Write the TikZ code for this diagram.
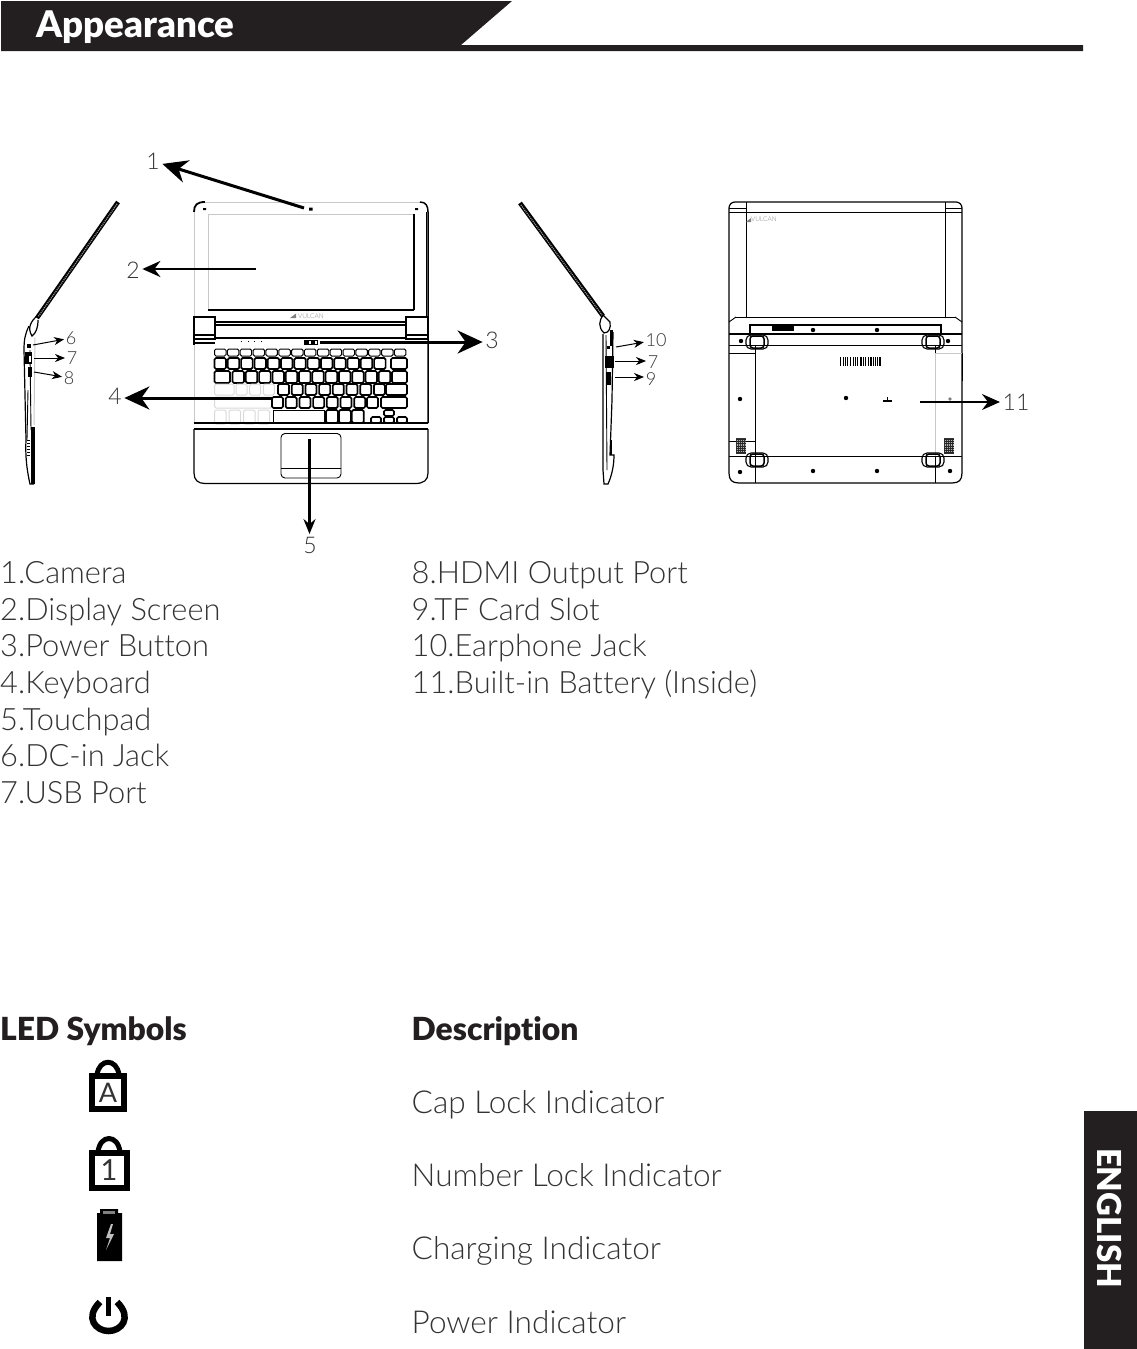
\documentclass[tikz,border=0pt]{standalone}
\usepackage{fontspec}
\setmainfont{Lato Light}[Ligatures={NoCommon}]
\newfontfamily\boldfam{Lato Black}[Ligatures={NoCommon}]
\newfontfamily\iconfam{Lato}
\usetikzlibrary{arrows.meta}
\definecolor{ink}{HTML}{231F20}
\definecolor{txt}{HTML}{333333}
\definecolor{pale}{HTML}{C8C8C8}
\tikzset{
  x=1pt,y=-1pt,
  listtext/.style={anchor=base west,inner sep=0pt,text=txt,font=\fontsize{30.8}{30.8}\selectfont},
  desctext/.style={anchor=base west,inner sep=0pt,text=txt,font=\fontsize{31.6}{31.6}\selectfont},
  headtext/.style={anchor=base west,inner sep=0pt,text=ink,font=\boldfam\fontsize{31.8}{31.8}\selectfont},
  biglabel/.style={inner sep=2.5pt,text=txt,font=\fontsize{23}{23}\selectfont},
  smalllabel/.style={inner sep=1.5pt,text=txt,font=\fontsize{18}{18}\selectfont},
  bigarrow/.style={line width=3pt,-{Stealth[length=25pt,width=23pt,inset=8pt]}},
  midarrow/.style={line width=2.4pt,-{Stealth[length=18pt,width=16pt,inset=6pt]}},
  tinyarrow/.style={line width=1pt,-{Stealth[length=10pt,width=8pt,inset=3pt]}},
  outline/.style={draw=black,line width=1.2pt},
  thinline/.style={draw=black,line width=.9pt},
  paleline/.style={draw=pale,line width=1pt},
  kbkey/.style={draw=black,line width=1.7pt,rounded corners=1.5pt,fill=white},
  palekey/.style={draw=pale!70,line width=1pt,rounded corners=1.5pt,fill=white},
  screw/.style={fill=black,draw=none},
  foot/.style={draw=black,line width=1.1pt,rounded corners=5pt},
  sidehatch/.style={draw=black,line width=.7pt},
  logotext/.style={inner sep=0pt,text=gray,font=\fontsize{6.5}{6.5}\selectfont},
  iconline/.style={draw=black,line width=6pt},
  shackle/.style={draw=black,line width=5pt},
}
\begin{document}
\begin{tikzpicture}
\useasboundingbox (0,0) rectangle (1137,1349);
% header
\fill[ink] (1,1) -- (512,1) -- (461,45) -- (1083,45) -- (1083,51) -- (1,51) -- cycle;
\node[anchor=base west,inner sep=0pt,text=white,font=\boldfam\fontsize{36.7}{36.7}\selectfont] (title) at (36,37) {Appearance};
% side tab
\fill[ink] (1084,1111) rectangle (1137,1349);
\node[rotate=-90,inner sep=0pt,text=white,font=\boldfam\fontsize{33}{33}\selectfont] (english) at (1110,1218) {ENGLISH};

% ===== front view =====
\draw[paleline] (208,214) -- (208,310) (414,214) -- (208,214);
\draw[outline] (414,214) -- (414,310);
\draw[draw=black,line width=1.8pt] (208,310) -- (414,310);
\draw[outline,line width=1.8pt] (194,212) .. controls (194,205) and (197,202) .. (205,202);
\draw[paleline] (205,202) -- (420,202);
\draw[paleline] (194,212) -- (194,317);
\draw[paleline] (194,345) -- (194,423);
\draw[outline,line width=1.5pt] (420,202) .. controls (426,202) and (428,206) .. (428,212) -- (428,423);
\draw[thinline] (426,212) -- (426,317);
\fill (203,208) rectangle +(3,2) (415,208) rectangle +(3,2) (309,207.5) rectangle +(3.5,3);
% hinge
\draw[outline,line width=1.5pt] (194,317) rectangle (215,339);
\draw[outline,line width=1.5pt] (406,317) rectangle (428,339);
\draw[outline] (194,335) -- (215,335) (406,335) -- (428,335);
\draw[outline] (215,322) -- (406,322) (215,325) -- (406,325) (215,338) -- (406,338);
\draw[outline] (194,343) -- (215,343);
\draw[outline] (194,339) -- (194,345);
\fill[gray] (290,318) -- (296,313.5) -- (296,318) -- cycle;
\node[logotext] (logoa) at (311,316) {VULCAN};
% led dots and button
\foreach \dx in {241,248,254,261}{\fill (\dx,341) rectangle +(1.2,1.2);}
\draw[thinline] (304,340) rectangle (317,344.5);
\fill (305,340.5) rectangle (309,344);
\fill (311,340.5) rectangle (315,344);
% key rows
\foreach \a in {0,...,14}{\draw[kbkey,line width=1pt] ({214.5+\a*12.85},349) rectangle ({226+\a*12.85},356);}
\foreach \a in {0,...,12}{\draw[kbkey] ({214.5+\a*13.3},358) rectangle ({226+\a*13.3},369);}
\draw[kbkey] (391,358) rectangle (407,369);
\draw[kbkey] (214.5,371) rectangle (230,383);
\foreach \a in {0,...,11}{\draw[kbkey] ({232.5+\a*13.3},371) rectangle ({244+\a*13.3},383);}
\draw[kbkey] (392,371) rectangle (407,383);
\draw[palekey] (214.5,384) rectangle (234,395);
\foreach \a in {0,1,2}{\draw[palekey] ({236+\a*13.7},384) rectangle ({247+\a*13.7},395);}
\foreach \a in {0,...,7}{\draw[kbkey] ({278+\a*13.7},384) rectangle ({289+\a*13.7},395);}
\draw[kbkey] (386,384) rectangle (407,395);
\draw[palekey] (214.5,397) rectangle (272,408);
\foreach \a in {0,...,6}{\draw[kbkey] ({272+\a*13.7},397) rectangle ({283+\a*13.7},408);}
\draw[kbkey] (367,397) rectangle (378,408);
\draw[kbkey] (381,397) rectangle (407,408);
\foreach \a in {0,1,2,3}{\draw[palekey] ({214.5+\a*14.5},410) rectangle ({226+\a*14.5},424);}
\draw[thinline] (273,410) rectangle (324,423);
\foreach \a in {0,1,2}{\draw[kbkey] ({326+\a*12.9},410) rectangle ({338+\a*12.9},423);}
\draw[kbkey] (384,410) rectangle (394,416);
\draw[kbkey] (371,417) rectangle (381,423);
\draw[kbkey] (384,417) rectangle (394,423);
\draw[kbkey] (397,417) rectangle (407,423);
% palm rest
\draw[outline] (194,423) -- (428,423) (194,429) -- (428,429);
\draw[outline] (194,429) -- (194,473) .. controls (194,480) and (198,483.5) .. (205,483.5) -- (415,483.5) .. controls (424,483.5) and (428,480) .. (428,473) -- (428,429);
\draw[thinline,rounded corners=4pt] (281,433.5) rectangle (341,478);
\draw[thinline] (281,468) -- (341,468);

% ===== left side =====
\draw[line width=4.5pt,black] (118,202) -- (37,318);
\draw[line width=1.3pt,white!60!black,dash pattern=on 1pt off 1pt] (117,204) -- (38,317);
\draw[outline] (37,316) .. controls (31,321) and (27,328) .. (32,336) .. controls (36,333) and (38,328) .. (38,320);
\draw[outline] (29,326) .. controls (25,334) and (24,340) .. (24,350) -- (26,440) .. controls (25,460) and (28,475) .. (30,484) -- (34,484);
\draw[paleline] (35,338) -- (34,425);
\draw[thinline] (28,390) -- (27,440) (30,350) -- (31,430);
\fill (25,352) rectangle (32,364);
\fill[white] (29,356) rectangle (31,362);
\fill (28,367) rectangle (32,377);
\fill (27,344) rectangle (31,348);
\fill (31,427) rectangle (35,484);
\foreach \a in {0,...,5}{\draw[sidehatch] (27,{440+\a*3}) -- (30,{440+\a*3});}

% ===== right side =====
\draw[line width=4.5pt,black] (520,203) -- (603,316);
\draw[line width=1.3pt,white!60!black,dash pattern=on 1pt off 1pt] (521,205) -- (602,315);
\draw[outline] (603,315) .. controls (599,321) and (598,327) .. (604,333) .. controls (609,333) and (611,328) .. (610,322) -- (603,315);
\draw[outline] (603,334) -- (603,470) (603,470) -- (604,484) -- (608,484) .. controls (612,475) and (614,465) .. (614,455) -- (610,455) -- (612,400) -- (613,332);
\draw[thinline] (606,335) -- (607,470);
\fill (607,357) rectangle (613,367);
\draw[outline] (606,357) rectangle (613,367);
\fill (606,372) rectangle (611,385);
\fill (607,346) rectangle (610,349);
\fill (610,440) rectangle (612,455);
\fill (610,330) rectangle (613,346);

% ===== back view =====
\draw[outline,rounded corners=6pt] (729,320) -- (729,202) -- (962,202) -- (962,320);
\draw[thinline] (746,202) -- (746,317) (945,202) -- (945,317);
\draw[thinline] (729,212) -- (962,212) (729,208) -- (746,208) (945,208) -- (962,208);
\draw[thinline] (735,317) -- (956,317);
\draw[thinline] (729,322) -- (736,317) (962,322) -- (955,317);
\draw[outline] (729,320) -- (729,473) .. controls (729,480) and (732,483) .. (739,483) -- (952,483) .. controls (959,483) and (962,480) .. (962,473) -- (962,320);
\draw[line width=1.5pt,black] (750,334) -- (750,325) -- (941,325) -- (941,334);
\draw[line width=1.5pt,black] (729,334) -- (962,334);
\draw[thinline] (729,345) -- (962,345);
\draw[thinline] (729,353) -- (755,353) (755,345) -- (755,483);
\draw[thinline] (935,345) -- (935,353);
\draw[paleline] (935,353) -- (935,483) (935,353) -- (962,353);
\draw[thinline] (729,441) -- (755,441) (729,456) -- (962,456) (935,456) -- (935,483);
\draw[thinline] (962,353) -- (962,381);
\fill (772,326) rectangle (794,331);
\foreach \p in {(813,330),(877,330),(740,399),(846,398),(740,472),(813,471),(877,471),(950,471),(741,341),(948,341)}{\fill[screw] \p circle (2.2);}
\fill[gray] (950,399) circle (1.8);
\foreach \fx/\fy in {757/342,933/342,757/460,933/460}{
  \draw[foot] ({\fx-11},{\fy-7}) rectangle ({\fx+11},{\fy+7});
  \draw[foot,line width=1.5pt,rounded corners=3pt] ({\fx-7},{\fy-6}) rectangle ({\fx+7},{\fy+6});
}
\foreach \a/\b in {840/1,842.5/1,845/.8,847/1,849.5/1.6,852.5/1,855/1,857/.8,860/1.6,863/1,865/.8,867.5/1,870/1.6,873/1,875/.8,877/1,879/2}{\fill (\a,357) rectangle +(\b,9);}
\fill (883,400) rectangle (892,402);
\fill (887,397) rectangle (888.2,400);
\foreach \sx in {736,944}{
  \fill[black!80] (\sx,438) rectangle +(10,16);
  \foreach \a in {0,...,4}{\fill[white!70!black] ({\sx+1+\a*2},439) rectangle +(.7,14);}
  \foreach \a in {0,...,6}{\fill[black!85] (\sx,{439+\a*2.2}) rectangle +(10,.8);}
}
\fill[gray] (746,222) -- (751,218) -- (751,222) -- cycle;
\node[logotext] (logob) at (764,219) {VULCAN};

% ===== callouts =====
\coordinate (s1) at (304,208);
\coordinate (s2) at (256,269);
\coordinate (s3) at (320,342);
\coordinate (s4) at (272,398);
\coordinate (s5) at (309.5,439);
\coordinate (s6) at (33,345);
\coordinate (s7) at (34,358);
\coordinate (s8) at (34,372);
\coordinate (s10) at (616,347);
\coordinate (s7b) at (615,361);
\coordinate (s9) at (615,377);
\coordinate (s11) at (920,402);
\node[biglabel] (l1) at (153,161) {1};
\node[biglabel] (l2) at (133,270) {2};
\node[biglabel] (l3) at (492,340) {3};
\node[biglabel] (l4) at (115,396) {4};
\node[biglabel] (l5) at (310,545) {5};
\node[biglabel] (l11) at (1016,402) {11};
\node[smalllabel] (l6) at (71,338) {6};
\node[smalllabel] (l7) at (72,358) {7};
\node[smalllabel] (l8) at (69,378) {8};
\node[smalllabel] (l10) at (656,340) {10};
\node[smalllabel] (l7b) at (653,362) {7};
\node[smalllabel] (l9) at (651,379) {9};
\draw[bigarrow] (s1) -- (l1);
\draw[midarrow] (s2) -- (l2.east |- s2);
\draw[bigarrow] (s3) -- (l3.west |- s3);
\draw[bigarrow] (s4) -- (l4.east |- s4);
\draw[midarrow,-{Stealth[length=15pt,width=12pt,inset=5pt]}] (s5) -- (s5 |- l5.north);
\draw[midarrow,line width=1.6pt] (s11) -- (l11.west |- s11);
\draw[tinyarrow] (s6) -- (l6);
\draw[tinyarrow] (s7) -- (l7.west |- s7);
\draw[tinyarrow] (s8) -- (l8);
\draw[tinyarrow] (s10) -- (l10);
\draw[tinyarrow] (s7b) -- (l7b.west |- s7b);
\draw[tinyarrow] (s9) -- (l9.west |- s9);

% ===== lists =====
\node[listtext] (t1) at (0,583) {1.Camera};
\node[listtext] (t2) at (0,620) {2.Display Screen};
\node[listtext] (t3) at (0,656) {3.Power Button};
\node[listtext] (t4) at (0,693) {4.Keyboard};
\node[listtext] (t5) at (0,730) {5.Touchpad};
\node[listtext] (t6) at (0,766) {6.DC-in Jack};
\node[listtext] (t7) at (0,803) {7.USB Port};
\node[listtext] (t8) at (411.5,583) {8.HDMI Output Port};
\node[listtext] (t9) at (411.5,620) {9.TF Card Slot};
\node[listtext] (t10) at (411.5,656) {10.Earphone Jack};
\node[listtext] (t11) at (411.5,693) {11.Built-in Battery (Inside)};
\node[headtext] (hleft) at (0,1040) {LED Symbols};
\node[headtext] (hright) at (411.5,1040) {Description};
\node[desctext] (d1) at (411.5,1113) {Cap Lock Indicator};
\node[desctext] (d2) at (411.5,1186) {Number Lock Indicator};
\node[desctext] (d3) at (411.5,1259) {Charging Indicator};
\node[desctext] (d4) at (411.5,1333) {Power Indicator};

% ===== icons =====
\draw[iconline] (91.5,1075.5) rectangle (124,1109);
\draw[shackle] (97,1075) .. controls (99,1058) and (117,1058) .. (119,1075);
\node[inner sep=0pt,text=black!80,font=\iconfam\fontsize{27}{27}\selectfont] (iconA) at (108,1092.5) {A};
\draw[iconline] (91.5,1152.5) rectangle (127,1188);
\draw[shackle] (98,1152) .. controls (100,1134) and (118,1134) .. (120,1152);
\node[inner sep=0pt,text=black!80,font=\iconfam\fontsize{29}{29}\selectfont] (iconB) at (109,1170) {1};
\fill[black] (97,1213) -- (100,1213) -- (100,1209) -- (118,1209) -- (118,1213) -- (122,1213) -- (122,1261) -- (97,1261) -- cycle;
\fill[gray] (103,1211) rectangle (115,1214);
\fill[white!75!black] (111,1224) -- (106,1238) -- (110,1238) -- (106,1250) -- (114,1234) -- (110,1234) -- (113,1224) -- cycle;
\draw[draw=black,line width=6.5pt] (100,1302) .. controls (84,1318) and (96,1331) .. (108.5,1331) .. controls (121,1331) and (133,1318) .. (117,1302);
\draw[draw=black,line width=4.5pt] (108.5,1297) -- (108.5,1316);
\end{tikzpicture}
\end{document}
